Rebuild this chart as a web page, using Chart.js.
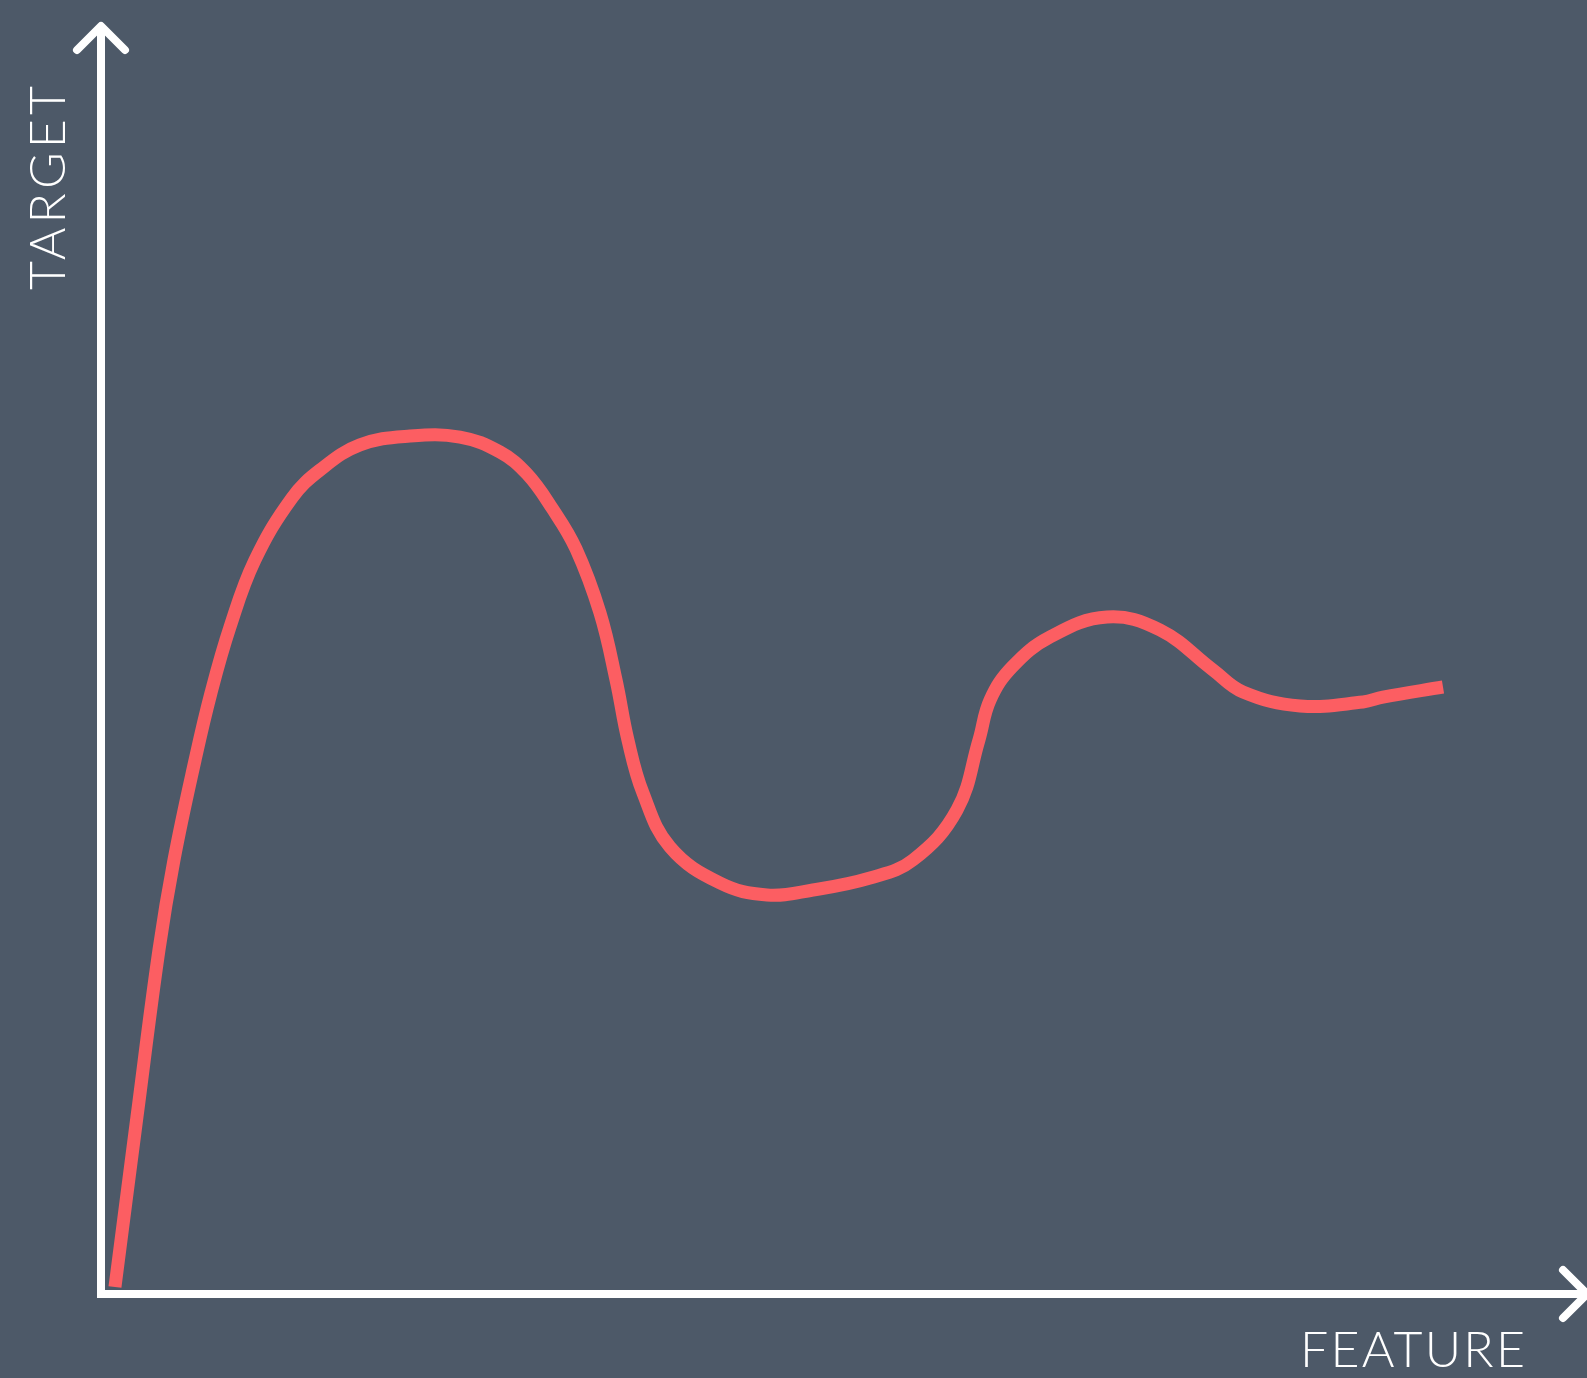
<!DOCTYPE html>
<html>
<head>
<meta charset="utf-8">
<title>Target vs feature</title>
<script src="https://cdn.jsdelivr.net/npm/chart.js@4.4.1/dist/chart.umd.min.js"></script>
<style>
  html, body { margin: 0; padding: 0; background: #4d5968; overflow: hidden; }
  #wrap { width: 1587px; height: 1378px; position: relative; }
</style>
</head>
<body>
<div id="wrap"><canvas id="chart"></canvas></div>
<script>
// Curve samples: feature value (x) and target value (y)
const featureValues = [
  0.094, 0.242, 0.390, 0.491, 0.633, 0.740, 0.868, 1.036, 1.285, 1.474,
  1.743, 2.079, 2.416, 2.685, 2.867, 3.035, 3.197, 3.358, 3.466, 3.546,
  3.647, 3.829, 4.166, 4.482, 4.791, 5.175, 5.464, 5.760, 5.908,
  5.983, 6.131, 6.386, 6.770, 7.127, 7.483, 7.685, 8.069, 8.493, 8.627,
  9.031
];
const targetValues = [
  0.055, 1.392, 2.704, 3.412, 4.198, 4.725, 5.244, 5.770, 6.258, 6.478,
  6.675, 6.745, 6.737, 6.619, 6.447, 6.179, 5.857, 5.354, 4.827, 4.355,
  3.939, 3.514, 3.231, 3.137, 3.176, 3.270, 3.412, 3.805, 4.355,
  4.670, 4.929, 5.165, 5.322, 5.220, 4.906, 4.733, 4.623, 4.654, 4.693,
  4.772
];
const xAxisTitle = 'FEATURE';
const yAxisTitle = 'TARGET';

const BG = '#4d5968';
const CURVE = '#fc5e62';
const AXIS = '#ffffff';

const points = featureValues.map((x, i) => ({ x, y: targetValues[i] }));

// Draws spaced-out text so that it spans a given width
function spacedText(ctx, text, x, y, width) {
  ctx.letterSpacing = '0px';
  const plain = ctx.measureText(text).width;
  const gap = (width - plain) / (text.length - 1);
  ctx.letterSpacing = gap + 'px';
  ctx.textAlign = 'left';
  ctx.fillText(text, x, y);
  ctx.letterSpacing = '0px';
}

const arrowAxes = {
  id: 'arrowAxes',
  beforeDraw(chart) {
    const { ctx, width, height } = chart;
    ctx.save();
    ctx.fillStyle = BG;
    ctx.fillRect(0, 0, width, height);
    ctx.restore();
  },
  beforeDatasetsDraw(chart) {
    const { ctx } = chart;
    const xs = chart.scales.x, ys = chart.scales.y;
    const ox = xs.getPixelForValue(xs.min);
    const oy = ys.getPixelForValue(ys.min);
    const topY = ys.top + 4;
    const rightX = xs.right;
    const head = 24;
    ctx.save();
    ctx.strokeStyle = AXIS;
    ctx.lineWidth = 8;
    // axis lines
    ctx.lineCap = 'butt';
    ctx.beginPath();
    ctx.moveTo(ox, topY);
    ctx.lineTo(ox, oy + 4);
    ctx.moveTo(ox - 4, oy);
    ctx.lineTo(rightX, oy);
    ctx.stroke();
    // arrowheads
    ctx.lineCap = 'round';
    ctx.lineJoin = 'round';
    ctx.beginPath();
    ctx.moveTo(ox - head, topY + head);
    ctx.lineTo(ox, topY);
    ctx.lineTo(ox + head, topY + head);
    ctx.moveTo(rightX - head, oy - head);
    ctx.lineTo(rightX, oy);
    ctx.lineTo(rightX - head, oy + head);
    ctx.stroke();
    ctx.restore();
  },
  afterDraw(chart) {
    const { ctx } = chart;
    const xs = chart.scales.x, ys = chart.scales.y;
    ctx.save();
    ctx.fillStyle = AXIS;
    ctx.font = '300 50px Lato, "Open Sans", sans-serif';
    ctx.textBaseline = 'alphabetic';
    // x axis title, below the axis near its right end
    spacedText(ctx, xAxisTitle, xs.right - 287, ys.bottom + 73, 225);
    // y axis title, rotated, left of the axis near its top
    ctx.translate(xs.left - 36, ys.top + 268);
    ctx.rotate(-Math.PI / 2);
    spacedText(ctx, yAxisTitle, 0, 0, 204);
    ctx.restore();
  }
};

new Chart(document.getElementById('chart'), {
  type: 'line',
  data: {
    datasets: [{
      data: points,
      borderColor: CURVE,
      borderWidth: 13,
      borderCapStyle: 'butt',
      borderJoinStyle: 'round',
      pointRadius: 0,
      pointHoverRadius: 0,
      fill: false,
      tension: 0.4
    }]
  },
  options: {
    responsive: true,
    maintainAspectRatio: false,
    animation: false,
    events: [],
    layout: { padding: { left: 101, top: 22, right: 0, bottom: 84 } },
    plugins: { legend: { display: false }, tooltip: { enabled: false } },
    scales: {
      x: { type: 'linear', min: 0, max: 10, display: false },
      y: { type: 'linear', min: 0, max: 10, display: false }
    }
  },
  plugins: [arrowAxes]
});
</script>
</body>
</html>
